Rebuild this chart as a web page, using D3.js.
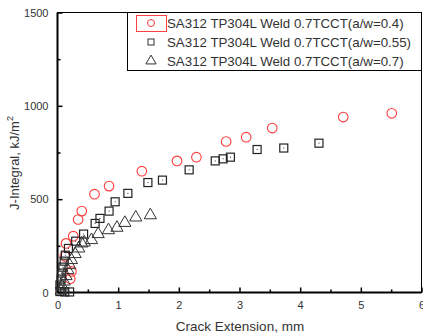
<!DOCTYPE html>
<html><head><meta charset="utf-8">
<script src="https://cdn.jsdelivr.net/npm/d3@7"></script>
<style>
body{margin:0;background:#fff;}
text{font-family:"Liberation Sans",Arial,sans-serif;}
</style></head>
<body><svg id="c" width="423" height="333"></svg>
<script>
const seriesNames = ["SA312 TP304L Weld 0.7TCCT(a/w=0.4)","SA312 TP304L Weld 0.7TCCT(a/w=0.55)","SA312 TP304L Weld 0.7TCCT(a/w=0.7)"];
const circleData = [[0.21,74],[0.23,113],[0.12,194],[0.14,263],[0.26,302],[0.34,391],[0.40,436],[0.61,527],[0.85,570],[1.39,650],[1.97,705],[2.29,725],[2.78,809],[3.11,832],[3.54,881],[4.71,940],[5.51,960]];
const squareData = [[0.04,5],[0.12,3],[0.2,3],[0.04,40],[0.06,72],[0.07,104],[0.09,136],[0.11,168],[0.13,200],[0.18,236],[0.30,275],[0.43,313],[0.62,370],[0.70,397],[0.85,436],[0.95,486],[1.16,531],[1.49,589],[1.73,602],[2.17,657],[2.60,705],[2.73,716],[2.85,725],[3.29,766],[3.73,774],[4.31,800]];
const triangleData = [[0.06,10],[0.08,32],[0.11,59],[0.14,88],[0.17,120],[0.20,147],[0.23,174],[0.29,206],[0.35,236],[0.40,263],[0.44,268],[0.56,281],[0.67,313],[0.84,334],[0.98,347],[1.11,373],[1.29,402],[1.53,414]];
const xTicks = [0,1,2,3,4,5,6];
const yTicks = [0,500,1000,1500];

const svg = d3.select("#c");
const L=57.5,R=421.5,T=12.5,B=292.5;
const x = d3.scaleLinear().domain([0,6]).range([L,R]);
const y = d3.scaleLinear().domain([0,1500]).range([B,T]);

// frame
svg.append("rect").attr("x",L).attr("y",T).attr("width",R-L).attr("height",B-T)
  .attr("fill","none").attr("stroke","#000").attr("stroke-width",1);
svg.append("line").attr("x1",L).attr("x2",R).attr("y1",B).attr("y2",B).attr("stroke","#000").attr("stroke-width",2);
svg.append("line").attr("x1",L).attr("x2",L).attr("y1",T).attr("y2",B).attr("stroke","#000").attr("stroke-width",2);

// axes
const xAx = svg.append("g").attr("transform",`translate(0,${B})`)
  .call(d3.axisBottom(x).tickValues(xTicks).tickSize(-5).tickPadding(9).tickFormat(d3.format("d")));
const xMin = svg.append("g").attr("transform",`translate(0,${B})`)
  .call(d3.axisBottom(x).tickValues(d3.range(0.5,6,1)).tickSize(-3).tickFormat(""));
const yAx = svg.append("g").attr("transform",`translate(${L},0)`)
  .call(d3.axisLeft(y).tickValues(yTicks).tickSize(-5).tickPadding(9).tickFormat(d3.format("d")));
const yMin = svg.append("g").attr("transform",`translate(${L},0)`)
  .call(d3.axisLeft(y).tickValues([250,750,1250]).tickSize(-3).tickFormat(""));
[xAx,xMin,yAx,yMin].forEach(g=>{
  g.select(".domain").remove();
  g.selectAll(".tick line").attr("stroke","#000").attr("stroke-width",1.5);
  g.selectAll("text").attr("font-size",11).attr("fill","#333").attr("font-family","'Liberation Sans',Arial,sans-serif");
});

// axis labels
svg.append("text").attr("x",240).attr("y",331).attr("text-anchor","middle")
  .attr("font-size",13.5).attr("fill","#333").text("Crack Extension, mm");
const yl = svg.append("text").attr("transform","translate(19,163) rotate(-90)").attr("text-anchor","middle")
  .attr("font-size",13).attr("fill","#333");
yl.append("tspan").text("J-Integral, kJ/m");
yl.append("tspan").attr("dy",-6).attr("font-size",9).text("2");

// data marks
const g = svg.append("g");
g.selectAll("circle.s1").data(circleData).join("circle").attr("class","s1")
  .attr("cx",d=>x(d[0])).attr("cy",d=>y(d[1])).attr("r",4.8)
  .attr("fill","none").attr("stroke","#ff3b3b").attr("stroke-width",1.1);
g.selectAll("rect.s2").data(squareData).join("rect").attr("class","s2")
  .attr("x",d=>x(d[0])-4).attr("y",d=>y(d[1])-4).attr("width",8).attr("height",8)
  .attr("fill","none").attr("stroke","#222").attr("stroke-width",1.2);
g.selectAll("rect.s2d").data(squareData).join("rect").attr("class","s2d")
  .attr("x",d=>x(d[0])-0.5).attr("y",d=>y(d[1])-0.5).attr("width",1).attr("height",1).attr("fill","#333");
const tri = d3.symbol().type(d3.symbolTriangle).size(65);
g.selectAll("path.s3").data(triangleData).join("path").attr("class","s3")
  .attr("transform",d=>`translate(${x(d[0])},${y(d[1])})`).attr("d",tri)
  .attr("fill","none").attr("stroke","#333").attr("stroke-width",1);

// legend
const lg = svg.append("g");
lg.append("rect").attr("x",127.5).attr("y",T).attr("width",R-127.5).attr("height",58)
  .attr("fill","#fff").attr("stroke","#000").attr("stroke-width",1);
lg.append("rect").attr("x",136.5).attr("y",15.5).attr("width",30).attr("height",16)
  .attr("fill","none").attr("stroke","#ff4040").attr("stroke-width",1);
const rows=[23,42,61];
lg.append("circle").attr("cx",151).attr("cy",rows[0]).attr("r",3.5).attr("fill","none").attr("stroke","#ff3b3b");
lg.append("rect").attr("x",148).attr("y",rows[1]-3).attr("width",6).attr("height",6).attr("fill","none").attr("stroke","#333");
lg.append("path").attr("transform",`translate(151,${rows[2]})`).attr("d",d3.symbol().type(d3.symbolTriangle).size(45)).attr("fill","none").attr("stroke","#333");
seriesNames.forEach((n,i)=>{
  lg.append("text").attr("x",167).attr("y",rows[i]+5).attr("font-size",13.3).attr("fill","#333").text(n);
});
</script></body></html>
